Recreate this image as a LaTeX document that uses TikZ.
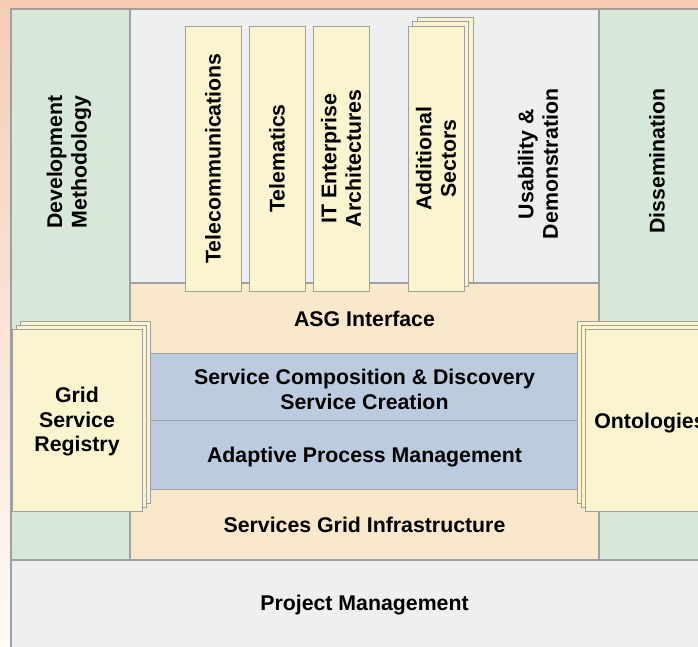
\documentclass[tikz,border=0pt]{standalone}
\usepackage{fontspec}
\setmainfont{Liberation Sans}
\definecolor{peach}{RGB}{246,204,182}
\definecolor{paper}{RGB}{255,250,246}
\definecolor{mossgreen}{RGB}{215,231,216}
\definecolor{fog}{RGB}{238,239,241}
\definecolor{sand}{RGB}{249,232,204}
\definecolor{steel}{RGB}{188,204,224}
\definecolor{cream}{RGB}{250,244,207}
\definecolor{rim}{RGB}{160,160,160}

\begin{document}
\begin{tikzpicture}[x=1pt, y=-1pt,
    region/.style={draw=rim, line width=1.5pt},
    lbl/.style={font=\bfseries\fontsize{21.3}{24.5}\selectfont, align=center, inner sep=0pt},
    card/.style={draw=rim, line width=1pt, fill=cream, font=\bfseries\fontsize{21.3}{24.5}\selectfont, align=center},
    tall/.style={card, rotate=90, minimum width=265pt, minimum height=56pt},
    sheet/.style={card, minimum width=130pt, minimum height=182pt}]
  \useasboundingbox (0,0) rectangle (698,646);
  \clip (0,0) rectangle (698,646);
  \shade[top color=peach, bottom color=paper] (0,0) rectangle (698,646);

  % columns and layers
  \draw[region, fill=mossgreen] (11,9) rectangle (130,560);
  \draw[region, fill=fog] (130,9) rectangle (599,283);
  \draw[region, fill=mossgreen] (599,9) rectangle (720,560);
  \draw[region, fill=sand] (130,283) rectangle (599,560);
  \draw[region, line width=1pt, fill=steel] (150,353) rectangle (577,489);
  \draw[region, line width=1pt] (150,420) -- (577,420);
  \draw[region, fill=fog] (11,560) rectangle (720,670);

  \node[lbl, rotate=90] (devmeth) at (69,162) {Development\\Methodology};
  \node[lbl, rotate=90] (dissem) at (657,161) {Dissemination};
  \node[lbl, rotate=90] (usab) at (538,164) {Usability \&\\Demonstration};

  % sector cards
  \node[tall] (telecom) at (213,158.5) {Telecommunications};
  \node[tall] (telemat) at (277,158.5) {Telematics};
  \node[tall] (itea) at (341,158.5) {IT Enterprise\\Architectures};
  \node[tall] (addsec3) at (445,149.5) {};
  \node[tall] (addsec2) at (440.5,154) {};
  \node[tall] (addsec) at (436,158.5) {Additional\\Sectors};

  % layers
  \node[lbl] (asg) at (364.5,319) {ASG Interface};
  \node[lbl] (compose) at (364.5,389.5) {Service Composition \& Discovery\\Service Creation};
  \node[lbl] (adapt) at (364.5,457) {Adaptive Process Management};
  \node[lbl] (sgi) at (364.5,525) {Services Grid Infrastructure};
  \node[lbl] (pm) at (364.5,605) {Project Management};

  % side stacks
  \node[sheet] (grid3) at (85,412.5) {};
  \node[sheet] (grid2) at (81,416.5) {};
  \node[sheet] (grid) at (77,420.5) {};
  \node[lbl] (gridtxt) at (77,422) {Grid\\Service\\Registry};
  \node[sheet] (onto3) at (642,412.5) {};
  \node[sheet] (onto2) at (646,416.5) {};
  \node[sheet, text depth=0pt] (onto) at (650,420.5) {Ontologies};
\end{tikzpicture}
\end{document}
